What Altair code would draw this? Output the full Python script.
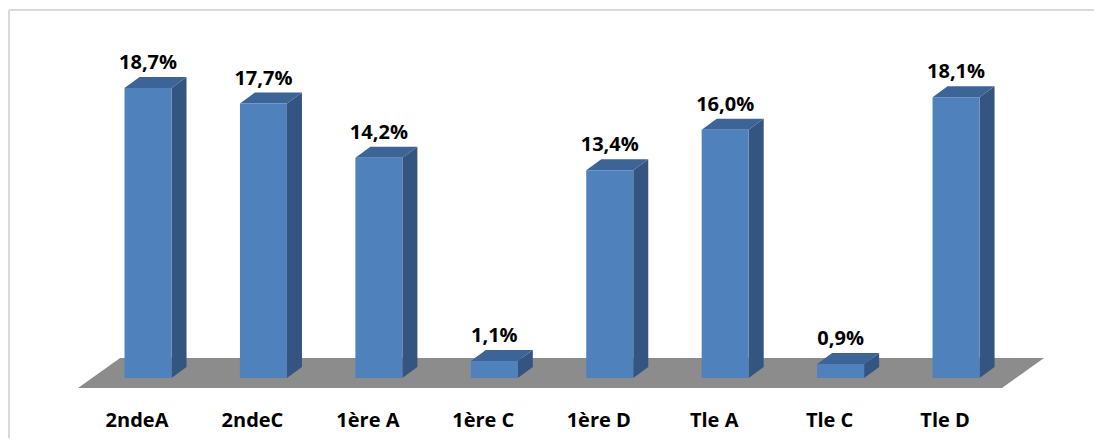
import altair as alt
import pandas as pd

# ---- data ----
categories = ["2ndeA", "2ndeC", "1ère A", "1ère C", "1ère D", "Tle A", "Tle C", "Tle D"]
values = [18.7, 17.7, 14.2, 1.1, 13.4, 16.0, 0.9, 18.1]
value_labels = ["18,7%", "17,7%", "14,2%", "1,1%", "13,4%", "16,0%", "0,9%", "18,1%"]

# ---- layout / 3D styling constants ----
W, H = 1086, 430
X_DOMAIN = [-1.213, 8.195]
Y_DOMAIN = [-3.869, 23.858]
HALF = 0.2036      # half width of bar front face (category units)
DX = 0.13          # depth shift to the right (category units)
DY = 0.709         # depth shift upward (value units)
FLOOR_FRONT, FLOOR_BACK = -0.645, 1.29
FLOOR_LEFT, FLOOR_RIGHT, FLOOR_SHIFT = -0.606, 7.398, 0.364

FRONT = "#4F81BD"
SIDE = "#34557F"
TOP = "#3C6496"
FLOOR = "#8C8C8C"
FONT = "Open Sans"

xs = alt.Scale(domain=X_DOMAIN, nice=False, zero=False)
ys = alt.Scale(domain=Y_DOMAIN, nice=False, zero=False)

idx = list(range(len(categories)))

front_df = pd.DataFrame({
    "cat": categories,
    "x": [i - HALF for i in idx],
    "x2": [i + HALF for i in idx],
    "y": [0.0] * len(idx),
    "y2": values,
})

side_rows, top_rows = [], []
for i, v in zip(idx, values):
    side_rows.append({"bar": i, "x": i + HALF, "y": 0.0, "y2": v})
    side_rows.append({"bar": i, "x": i + HALF + DX, "y": DY, "y2": v + DY})
    top_rows.append({"bar": i, "y": v, "x": i - HALF, "x2": i + HALF})
    top_rows.append({"bar": i, "y": v + DY, "x": i - HALF + DX, "x2": i + HALF + DX})
side_df = pd.DataFrame(side_rows)
top_df = pd.DataFrame(top_rows)

floor_df = pd.DataFrame([
    {"y": FLOOR_FRONT, "x": FLOOR_LEFT, "x2": FLOOR_RIGHT},
    {"y": FLOOR_BACK, "x": FLOOR_LEFT + FLOOR_SHIFT, "x2": FLOOR_RIGHT + FLOOR_SHIFT},
])

label_df = pd.DataFrame({"i": idx, "v": values, "lab": value_labels, "cat": categories})

floor = alt.Chart(floor_df).mark_area(orient="horizontal", color=FLOOR).encode(
    y=alt.Y("y:Q", scale=ys, axis=None),
    x=alt.X("x:Q", scale=xs, axis=None),
    x2="x2:Q",
)

side = alt.Chart(side_df).mark_area(orient="vertical", color=SIDE).encode(
    x=alt.X("x:Q", scale=xs, axis=None),
    y=alt.Y("y:Q", scale=ys, axis=None),
    y2="y2:Q",
    detail="bar:N",
)

top = alt.Chart(top_df).mark_area(orient="horizontal", color=TOP).encode(
    y=alt.Y("y:Q", scale=ys, axis=None),
    x=alt.X("x:Q", scale=xs, axis=None),
    x2="x2:Q",
    detail="bar:N",
)

front = alt.Chart(front_df).mark_rect(color=FRONT).encode(
    x=alt.X("x:Q", scale=xs, axis=None),
    x2="x2:Q",
    y=alt.Y("y:Q", scale=ys, axis=None),
    y2="y2:Q",
)

vals = alt.Chart(label_df).mark_text(
    font=FONT, fontSize=20, fontWeight="bold", color="#000000",
    baseline="alphabetic", align="center", dy=-19,
).encode(
    x=alt.X("i:Q", scale=xs, axis=None),
    y=alt.Y("v:Q", scale=ys, axis=None),
    text="lab:N",
)

cats = alt.Chart(label_df).mark_text(
    font=FONT, fontSize=20, fontWeight="bold", color="#000000",
    baseline="alphabetic", align="center", dx=-11,
).encode(
    x=alt.X("i:Q", scale=xs, axis=None),
    y=alt.value(419),
    text="cat:N",
)

border_left = alt.Chart(label_df).mark_rule(color="#D9D9D9", strokeWidth=2).encode(
    x=alt.value(1), y=alt.value(2), y2=alt.value(H)
)
border_top = alt.Chart(label_df).mark_rule(color="#D9D9D9", strokeWidth=2).encode(
    y=alt.value(2), x=alt.value(1), x2=alt.value(W)
)

chart = alt.layer(
    border_left, border_top, floor, side, top, front, vals, cats
).properties(
    width=W, height=H, padding=0,
    autosize=alt.AutoSizeParams(type="none"),
    background="#FFFFFF",
).configure_view(stroke=None)

chart.save("out.html", embed_options={"renderer": "svg", "actions": False})
